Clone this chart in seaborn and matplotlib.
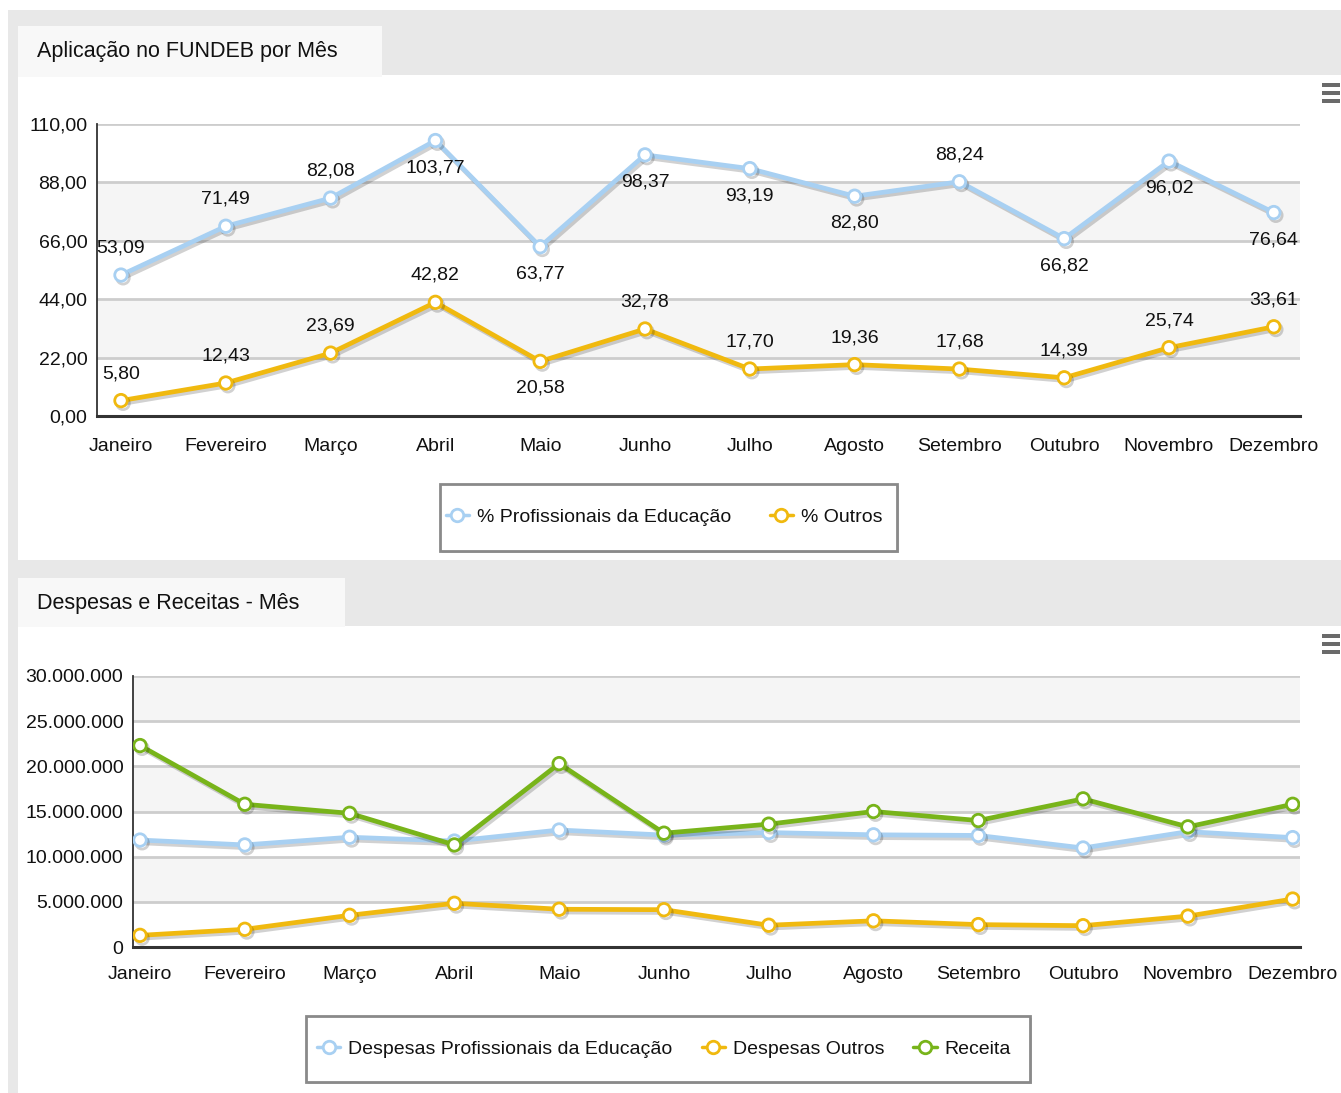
import matplotlib
matplotlib.use('Agg')
import matplotlib.pyplot as plt
import seaborn as sns
import numpy as np
import pandas as pd
from matplotlib.patches import Rectangle
from matplotlib.lines import Line2D
import matplotlib.patheffects as pe
from matplotlib.ticker import FuncFormatter

# ---------------- data ----------------
months = ["Janeiro", "Fevereiro", "Março", "Abril", "Maio", "Junho",
          "Julho", "Agosto", "Setembro", "Outubro", "Novembro", "Dezembro"]

pct_prof = [53.09, 71.49, 82.08, 103.77, 63.77, 98.37, 93.19, 82.80, 88.24, 66.82, 96.02, 76.64]
pct_outros = [5.80, 12.43, 23.69, 42.82, 20.58, 32.78, 17.70, 19.36, 17.68, 14.39, 25.74, 33.61]

desp_prof = [11840000, 11300000, 12150000, 11730000, 12950000, 12390000,
             12670000, 12420000, 12350000, 10960000, 12770000, 12110000]
desp_outros = [1290000, 1960000, 3510000, 4840000, 4180000, 4130000,
               2410000, 2900000, 2480000, 2360000, 3420000, 5310000]
receita = [22300000, 15800000, 14800000, 11300000, 20300000, 12600000,
           13600000, 15000000, 14000000, 16400000, 13300000, 15800000]

top_title = "Aplicação no FUNDEB por Mês"
bottom_title = "Despesas e Receitas - Mês"
top_series = ["% Profissionais da Educação", "% Outros"]
bottom_series = ["Despesas Profissionais da Educação", "Despesas Outros", "Receita"]
top_yticks = [0, 22, 44, 66, 88, 110]
bottom_yticks = [0, 5000000, 10000000, 15000000, 20000000, 25000000, 30000000]

# label placement (+1 above, -1 below) for the data labels
prof_label_side = [1, 1, 1, -1, -1, -1, -1, -1, 1, -1, -1, -1]
outros_label_side = [1, 1, 1, 1, -1, 1, 1, 1, 1, 1, 1, 1]

# ---------------- style ----------------
sns.set_theme(style='white')
plt.rcParams['font.family'] = ['Liberation Sans', 'DejaVu Sans']
plt.rcParams['text.color'] = '#111111'

BLUE = '#a8d0f2'
YELLOW = '#f0b90f'
GREEN = '#78b41a'
FRAME = '#e8e8e8'
TAB = '#f8f8f8'
BAND = '#f5f5f5'
GRID = '#cdcdcd'
FS = 14

W, H = 1341, 1093
fig = plt.figure(figsize=(W / 100, H / 100), dpi=100)
fig.patch.set_facecolor('white')


def frect(x0, y0, x1, y1, **kw):
    r = Rectangle((x0 / W, 1 - y1 / H), (x1 - x0) / W, (y1 - y0) / H,
                  transform=fig.transFigure, **kw)
    fig.add_artist(r)
    return r


def ax_rect(x0, y0, x1, y1):
    return [x0 / W, 1 - y1 / H, (x1 - x0) / W, (y1 - y0) / H]


def fx(x):
    return x / W


def fy(y):
    return 1 - y / H


# background frame / panels
frect(8, 10, W, H, facecolor=FRAME, edgecolor='none', zorder=-20)
frect(18, 75, W, 560, facecolor='white', edgecolor='none', zorder=-19)
frect(18, 626, W, H, facecolor='white', edgecolor='none', zorder=-19)
frect(18, 26, 382, 77, facecolor=TAB, edgecolor='none', zorder=-18)
frect(18, 578, 345, 627, facecolor=TAB, edgecolor='none', zorder=-18)
fig.text(fx(37), fy(51), top_title, fontsize=15.5, va='center', ha='left')
fig.text(fx(37), fy(603), bottom_title, fontsize=15.5, va='center', ha='left')

# menu icons
for base in (83, 634):
    for k in range(3):
        frect(1322, base + k * 8, 1340, base + k * 8 + 4, facecolor='#6a6a6a',
              edgecolor='none', zorder=-10)

shadow = [pe.SimpleLineShadow(offset=(1.5, -2), shadow_color='#000000', alpha=0.18),
          pe.Normal()]


def style_axes(ax, yticks, bands, fmt, xpad):
    ax.set_facecolor('white')
    for lo, hi in bands:
        ax.axhspan(lo, hi, color=BAND, zorder=0, lw=0)
    ax.set_yticks(yticks)
    ax.yaxis.set_major_formatter(FuncFormatter(fmt))
    ax.set_xticks(np.arange(len(months)))
    ax.set_xticklabels(months)
    ax.tick_params(axis='both', length=0, labelsize=FS, colors='#111111')
    ax.tick_params(axis='x', pad=xpad)
    ax.tick_params(axis='y', pad=7)
    ax.yaxis.grid(True, color=GRID, lw=2, zorder=1)
    ax.xaxis.grid(False)
    ax.set_axisbelow(True)
    for s in ('top', 'right'):
        ax.spines[s].set_visible(False)
    ax.spines['left'].set_color('#333333')
    ax.spines['left'].set_linewidth(1.3)
    ax.spines['bottom'].set_color('#333333')
    ax.spines['bottom'].set_linewidth(2.2)
    ax.set_xlabel('')
    ax.set_ylabel('')


def draw_series(ax, vals, color):
    sns.lineplot(x=np.arange(len(months)), y=vals, ax=ax, color=color, lw=3.4,
                 marker='o', markersize=9, markerfacecolor='white',
                 markeredgecolor=color, markeredgewidth=2, zorder=5,
                 path_effects=shadow)


def pt_fmt(v, pos=None):
    return f"{v:,.2f}".replace(',', 'X').replace('.', ',').replace('X', '.')


def money_fmt(v, pos=None):
    return f"{v:,.0f}".replace(',', '.')


# ---------------- top chart ----------------
ax1 = fig.add_axes(ax_rect(97, 124, 1300, 416))
draw_series(ax1, pct_prof, BLUE)
draw_series(ax1, pct_outros, YELLOW)
ax1.set_xlim(-0.229, 11.25)
ax1.set_ylim(0, 110)
style_axes(ax1, top_yticks, [(22, 44), (66, 88)], pt_fmt, 16)

for vals, sides in ((pct_prof, prof_label_side), (pct_outros, outros_label_side)):
    for i, (v, s) in enumerate(zip(vals, sides)):
        ax1.annotate(pt_fmt(v), (i, v), xytext=(0, 27 * s), textcoords='offset pixels',
                     ha='center', va='center', fontsize=FS, color='#111111',
                     zorder=10, annotation_clip=False)

# ---------------- bottom chart ----------------
ax2 = fig.add_axes(ax_rect(133, 676, 1300, 947))
draw_series(ax2, desp_prof, BLUE)
draw_series(ax2, desp_outros, YELLOW)
draw_series(ax2, receita, GREEN)
ax2.set_xlim(-0.067, 11.07)
ax2.set_ylim(0, 30000000)
style_axes(ax2, bottom_yticks, [(25e6, 30e6), (15e6, 20e6), (5e6, 10e6)], money_fmt, 14)


# ---------------- legends ----------------
def legend_box(x0, y0, x1, y1):
    frect(x0 + 2, y0 + 2, x1 + 2, y1 + 2, facecolor='#d0d0d0', edgecolor='none', zorder=2)
    frect(x0, y0, x1, y1, facecolor='white', edgecolor='#8a8a8a', lw=2, zorder=3)


def handle(color):
    return Line2D([], [], color=color, lw=2.5, marker='o', markersize=9,
                  markerfacecolor='white', markeredgecolor=color, markeredgewidth=2)


legend_box(440, 484, 897, 551)
lg1 = fig.legend([handle(BLUE), handle(YELLOW)], top_series, loc='center',
                 bbox_to_anchor=(fx(664), fy(517)), ncol=2, frameon=False,
                 fontsize=FS, handlelength=1.2, handletextpad=0.4, columnspacing=2.0)
lg1.set_zorder(5)

legend_box(306, 1016, 1030, 1082)
lg2 = fig.legend([handle(BLUE), handle(YELLOW), handle(GREEN)], bottom_series,
                 loc='center', bbox_to_anchor=(fx(664), fy(1049)), ncol=3,
                 frameon=False, fontsize=FS, handlelength=1.2, handletextpad=0.4,
                 columnspacing=1.5)
lg2.set_zorder(5)

fig.savefig('out.png', dpi=100, facecolor='white')
